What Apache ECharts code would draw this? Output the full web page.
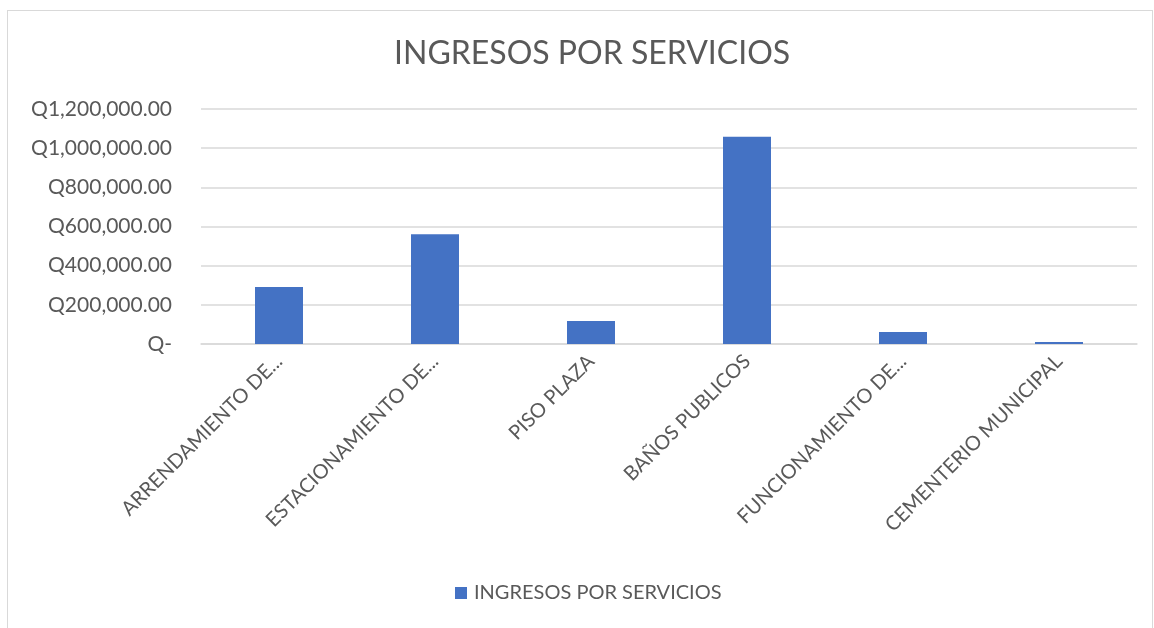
<html>
<head>
<meta charset="utf-8">
<script src="https://cdn.jsdelivr.net/npm/echarts@6/dist/echarts.min.js"></script>
<style>
  html, body { margin: 0; padding: 0; background: #fff; }
  #frame { position: absolute; left: 7px; top: 10px; width: 1146px; height: 630px; border: 1px solid #d9d9d9; box-sizing: border-box; }
  #main { position: absolute; left: 0; top: 0; width: 1154px; height: 628px; }
</style>
</head>
<body>
<div id="frame"></div>
<div id="main"></div>
<script>
var categories = ['ARRENDAMIENTO DE...', 'ESTACIONAMIENTO DE...', 'PISO PLAZA', 'BAÑOS PUBLICOS', 'FUNCIONAMIENTO DE...', 'CEMENTERIO MUNICIPAL'];
var ingresos = [291000, 560000, 117000, 1058000, 61000, 10000];
var seriesName = 'INGRESOS POR SERVICIOS';

var font = 'Lato, "Open Sans", sans-serif';
var chart = echarts.init(document.getElementById('main'));

function money(v) {
    if (v === 0) return 'Q-';
    return 'Q' + v.toLocaleString('en-US', { minimumFractionDigits: 2, maximumFractionDigits: 2 });
}

chart.setOption({
    animation: false,
    title: {
        text: 'INGRESOS POR SERVICIOS',
        left: 389,
        top: 33,
        textStyle: { color: '#595959', fontSize: 32, fontWeight: 'normal', fontFamily: font }
    },
    legend: {
        bottom: 20,
        left: 450,
        itemWidth: 12,
        itemHeight: 12,
        itemGap: 7,
        icon: 'rect',
        textStyle: { color: '#595959', fontSize: 20, fontFamily: font, padding: [0, 0, 0, 2] },
        data: [seriesName]
    },
    grid: { left: 201, right: 17, top: 109, bottom: 284 },
    xAxis: {
        type: 'category',
        data: categories,
        axisLine: { lineStyle: { color: '#d9d9d9', width: 1.5 } },
        axisTick: { show: false },
        axisLabel: { rotate: 45, color: '#595959', fontSize: 20, fontFamily: font, margin: 14, interval: 0 }
    },
    yAxis: {
        type: 'value',
        min: 0,
        max: 1200000,
        interval: 200000,
        axisLine: { show: false },
        axisTick: { show: false },
        splitLine: { lineStyle: { color: '#d9d9d9', width: 1.5 } },
        axisLabel: { color: '#595959', fontSize: 21, fontFamily: font, margin: 29, formatter: money }
    },
    series: [{
        name: seriesName,
        type: 'bar',
        data: ingresos,
        barWidth: 48,
        itemStyle: { color: '#4472c4' }
    }]
});
</script>
</body>
</html>
